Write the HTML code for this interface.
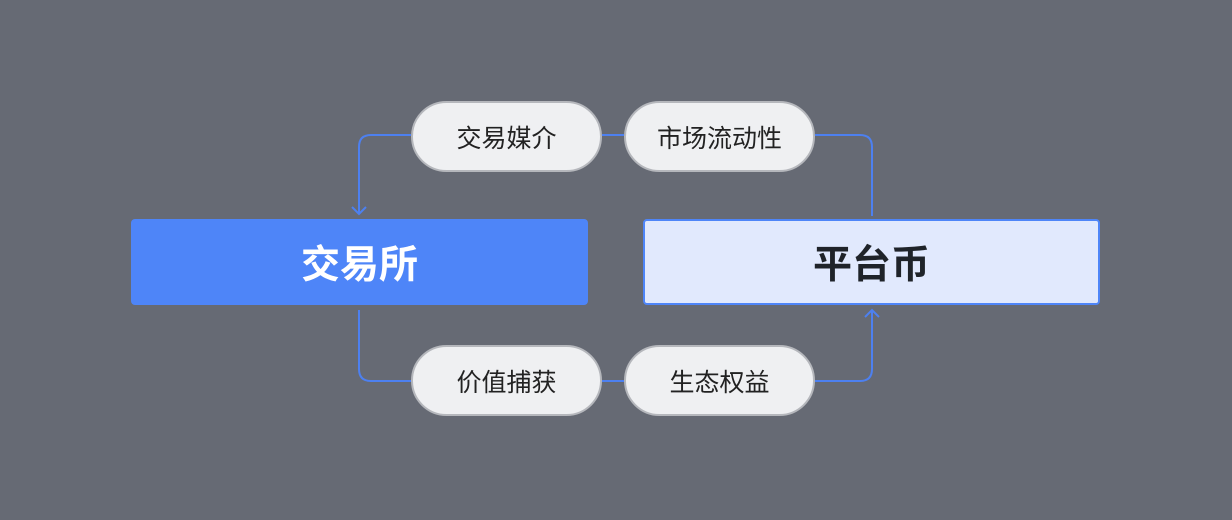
<!DOCTYPE html>
<html><head><meta charset="utf-8"><style>
body{margin:0;width:1232px;height:520px;background:#666a74;position:relative;overflow:hidden;font-family:"Liberation Sans","Noto Sans CJK SC",sans-serif}
.box{position:absolute;top:219px;height:86px;width:457px;box-sizing:border-box;border-radius:4px;display:flex;align-items:center;justify-content:center;font-size:39px;font-weight:bold}
.pill{position:absolute;width:191px;height:71px;box-sizing:border-box;border:2px solid #b5b7bc;background:#eff0f2;border-radius:36px;display:flex;align-items:center;justify-content:center;font-size:25px;color:#222}
svg{position:absolute;left:0;top:0}
</style></head><body>
<svg width="1232" height="520" fill="none" stroke="#4d80f0" stroke-width="2">
<path d="M411 135H371Q359 135 359 147V214"/>
<path d="M352 207L359 214L366 207"/>
<path d="M602 135H624"/>
<path d="M815 135H860Q872 135 872 147V216"/>
<path d="M359 310V369Q359 381 371 381H411"/>
<path d="M602 381H624"/>
<path d="M815 381H860Q872 381 872 369V310"/>
<path d="M865 317L872 310L879 317"/>
</svg>
<div class="box" style="left:131px;background:#4e85f8;color:#fff">交易所</div>
<div class="box" style="left:643px;background:#e1e9fd;border:2px solid #4e85f8;color:#1f2329">平台币</div>
<div class="pill" style="left:411px;top:101px">交易媒介</div>
<div class="pill" style="left:624px;top:101px">市场流动性</div>
<div class="pill" style="left:411px;top:345px">价值捕获</div>
<div class="pill" style="left:624px;top:345px">生态权益</div>
</body></html>
